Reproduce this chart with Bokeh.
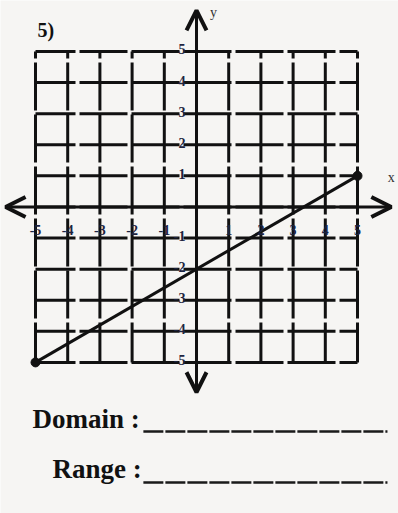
from bokeh.plotting import figure
from bokeh.models import Arrow, OpenHead, Range1d
from bokeh.core.properties import value
from bokeh.embed import file_html
from bokeh.resources import INLINE

# Coordinate grid and the plotted segment
grid_values = [-5, -4, -3, -2, -1, 0, 1, 2, 3, 4, 5]
x_tick_values = [-5, -4, -3, -2, -1, 1, 2, 3, 4, 5]
x_tick_labels = ["-5", "-4", "-3", "-2", "-1", "1", "2", "3", "4", "5"]
y_tick_values = [5, 4, 3, 2, 1, -1, -2, -3, -4, -5]
y_tick_labels = ["5", "4", "3", "2", "1", "-1", "-2", "-3", "-4", "-5"]
line_x = [-5, 5]
line_y = [-5, 1]

W, H = 398, 513
BG = "#f6f5f3"
INK = "#111111"
SERIF = value("Liberation Serif")

p = figure(width=W, height=H, output_backend="svg", toolbar_location=None,
           x_range=Range1d(-6.087, 6.273), y_range=Range1d(-9.86, 6.64),
           min_border=0, outline_line_color=None,
           background_fill_color=BG, border_fill_color=BG)
p.axis.visible = False
p.grid.visible = False

# grid lines (dashed with small gaps)
g_lo, g_hi = grid_values[0], grid_values[-1]
p.segment(x0=grid_values, y0=[g_lo] * len(grid_values),
          x1=grid_values, y1=[g_hi] * len(grid_values),
          line_color=INK, line_width=3, line_dash="48 4", line_dash_offset=8)
p.segment(x0=[g_lo] * len(grid_values), y0=grid_values,
          x1=[g_hi] * len(grid_values), y1=grid_values,
          line_color=INK, line_width=3, line_dash="48 4", line_dash_offset=8)

# axes with arrow heads at both ends
for xs, ys, xe, ye in [(-5.93, 0, 6.05, 0), (0, -5.96, 0, 6.32)]:
    p.add_layout(Arrow(x_start=xs, y_start=ys, x_end=xe, y_end=ye,
                       line_width=3, line_color=INK,
                       start=OpenHead(size=20, line_width=4, line_color=INK),
                       end=OpenHead(size=20, line_width=4, line_color=INK)))

# the segment and its endpoints
p.line(line_x, line_y, line_color=INK, line_width=3)
p.scatter(line_x, line_y, size=9, color=INK)

# tick labels
p.text(x=x_tick_values, y=[0] * len(x_tick_values), text=x_tick_labels,
       text_font=SERIF, text_font_style="bold", text_font_size="14px",
       text_color="#1d2440", text_align="center", text_baseline="middle",
       y_offset=23)
p.text(x=[0] * len(y_tick_values), y=y_tick_values, text=y_tick_labels,
       text_font=SERIF, text_font_style="bold", text_font_size="14px",
       text_color="#1d2440", text_align="right", text_baseline="middle",
       x_offset=-11, y_offset=-2)

# axis names
p.text(x=[6.05], y=[0], text=["x"], text_font=SERIF, text_font_size="14px",
       text_color="#333333", text_align="center", text_baseline="middle",
       x_offset=0, y_offset=-29)
p.text(x=[0], y=[6.32], text=["y"], text_font=SERIF, text_font_size="14px",
       text_color="#333333", text_align="center", text_baseline="middle",
       x_offset=17, y_offset=2)

# problem number
p.text(x=[-5], y=[5], text=["5)"], text_font=SERIF, text_font_style="bold",
       text_font_size="20px", text_color=INK, text_align="left",
       text_baseline="middle", x_offset=2, y_offset=-21)

# answer prompts
p.text(x=[-5, -5], y=[-5, -5], text=["Domain :", "Range :"],
       text_font=SERIF, text_font_style="bold", text_font_size="27px",
       text_color=INK, text_align="left", text_baseline="alphabetic",
       x_offset=[-3, 17], y_offset=[57, 107])
p.segment(x0=[-1.65, -1.65], y0=[-7.22, -8.86], x1=[5.93, 5.93], y1=[-7.22, -8.86],
          line_color="#1a1a1a", line_width=2.5, line_dash="20 2")

open("out.html", "w").write(file_html(p, INLINE))
